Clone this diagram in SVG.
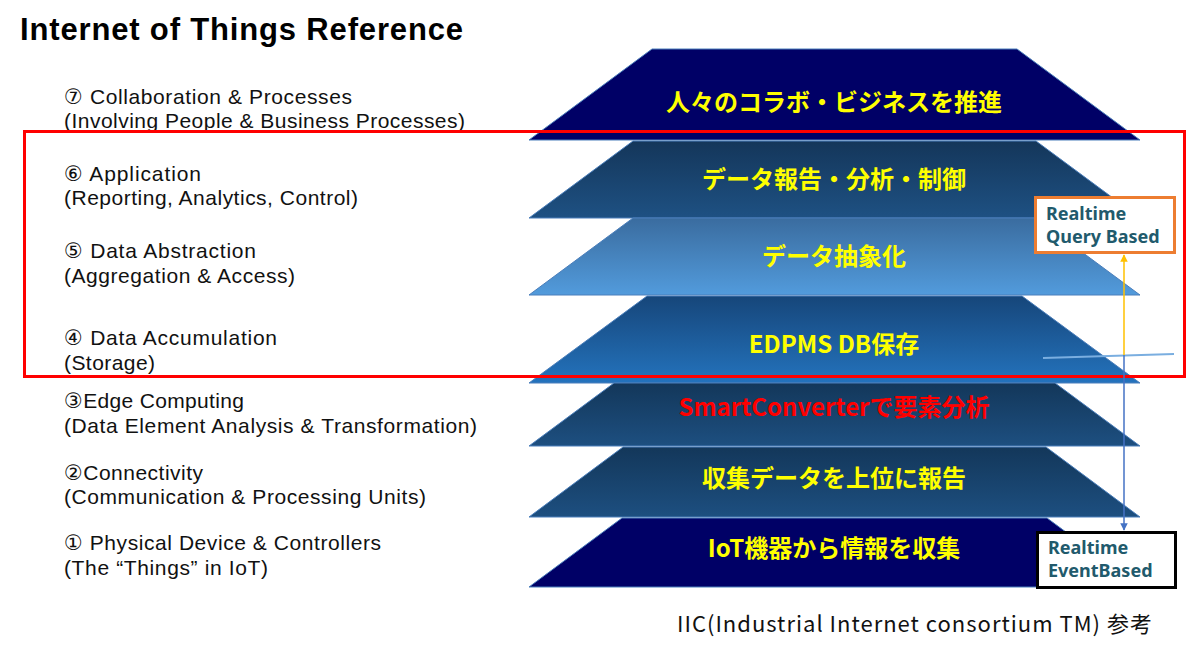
<svg xmlns="http://www.w3.org/2000/svg" width="1196" height="654" viewBox="0 0 1196 654">
<style>
.lbl{font-family:"Liberation Sans",Arial,sans-serif;font-size:21px;fill:#111}
.cd{font-family:"DejaVu Sans",sans-serif;font-size:21px}
.lt{font-family:"Noto Sans CJK JP",sans-serif;font-size:24px;font-weight:700;fill:#ffff00;text-anchor:middle;dominant-baseline:central}
.trap{stroke:#4a7ebb;stroke-width:1}
.rt{font-family:"Noto Sans","Liberation Sans",sans-serif;font-size:18px;font-weight:700;fill:#215a6c}
</style>
<defs>
<linearGradient id="g6" x1="0" y1="0" x2="0" y2="1"><stop offset="0" stop-color="#14365a"/><stop offset="1" stop-color="#1e5183"/></linearGradient>
<linearGradient id="g5" x1="0" y1="0" x2="0" y2="1"><stop offset="0" stop-color="#3a6c9f"/><stop offset="1" stop-color="#529bdc"/></linearGradient>
<linearGradient id="g4" x1="0" y1="0" x2="0" y2="1"><stop offset="0" stop-color="#16467a"/><stop offset="1" stop-color="#2473bd"/></linearGradient>
<linearGradient id="g3" x1="0" y1="0" x2="0" y2="1"><stop offset="0" stop-color="#13375a"/><stop offset="1" stop-color="#1d4f80"/></linearGradient>
<marker id="ay" viewBox="0 0 10 10" refX="9" refY="5" markerWidth="5" markerHeight="5" orient="auto"><path d="M0,0L10,5L0,10z" fill="#ffc000"/></marker>
<marker id="ab" viewBox="0 0 10 10" refX="9" refY="5" markerWidth="5" markerHeight="5" orient="auto"><path d="M0,0L10,5L0,10z" fill="#4472c4"/></marker>
</defs>
<rect width="1196" height="654" fill="#fff"/>
<text x="20" y="40" font-family="Liberation Sans,Arial,sans-serif" font-size="31" font-weight="700" fill="#000" textLength="443">Internet of Things Reference</text>

<g id="layer7"><polygon class="trap" points="652,49 1017,49 1140,140 529,140" fill="#000066"/><text class="lt" x="834" y="100">人々のコラボ・ビジネスを推進</text></g>
<g id="layer6"><polygon class="trap" points="633,141 1036,141 1140,218 529,218" fill="url(#g6)"/><text class="lt" x="834" y="177">データ報告・分析・制御</text></g>
<g id="layer5"><polygon class="trap" points="633,218 1036,218 1140,295 529,295" fill="url(#g5)"/><text class="lt" x="834" y="254">データ抽象化</text></g>
<g id="layer4"><polygon class="trap" points="647,296 1022,296 1140,383 529,383" fill="url(#g4)"/><text class="lt" x="834" y="342">EDPMS DB保存</text></g>
<g id="layer3"><polygon class="trap" points="614,383 1055,383 1140,446 529,446" fill="url(#g3)"/><text class="lt" x="834" y="405" style="fill:#ff0000">SmartConverterで要素分析</text></g>
<g id="layer2"><polygon class="trap" points="623,447 1046,447 1140,517 529,517" fill="url(#g3)"/><text class="lt" x="834" y="476">収集データを上位に報告</text></g>
<g id="layer1"><polygon class="trap" points="622,518 1047,518 1140,587 529,587" fill="#000066"/><text class="lt" x="834" y="546">IoT機器から情報を収集</text></g>

<g id="label7"><text class="lbl" x="64" y="104" textLength="288"><tspan class="cd">⑦</tspan> Collaboration &amp; Processes</text><text class="lbl" x="64" y="128" textLength="401">(Involving People &amp; Business Processes)</text></g>
<g id="label6"><text class="lbl" x="64" y="181" textLength="137"><tspan class="cd">⑥</tspan> Application</text><text class="lbl" x="64" y="205" textLength="294">(Reporting, Analytics, Control)</text></g>
<g id="label5"><text class="lbl" x="64" y="258" textLength="192"><tspan class="cd">⑤</tspan> Data Abstraction</text><text class="lbl" x="64" y="283" textLength="231">(Aggregation &amp; Access)</text></g>
<g id="label4"><text class="lbl" x="64" y="345" textLength="213"><tspan class="cd">④</tspan> Data Accumulation</text><text class="lbl" x="64" y="370" textLength="91">(Storage)</text></g>
<g id="label3"><text class="lbl" x="64" y="408" textLength="180"><tspan class="cd">③</tspan>Edge Computing</text><text class="lbl" x="64" y="433" textLength="413">(Data Element Analysis &amp; Transformation)</text></g>
<g id="label2"><text class="lbl" x="64" y="480" textLength="139"><tspan class="cd">②</tspan>Connectivity</text><text class="lbl" x="64" y="504" textLength="362">(Communication &amp; Processing Units)</text></g>
<g id="label1"><text class="lbl" x="64" y="550" textLength="317"><tspan class="cd">①</tspan> Physical Device &amp; Controllers</text><text class="lbl" x="64" y="575" textLength="204">(The “Things” in IoT)</text></g>

<g id="highlight"><rect x="24.5" y="131.5" width="1160" height="245" fill="none" stroke="#ff0000" stroke-width="3"/></g>

<g id="connectors">
<line x1="1043" y1="358" x2="1174" y2="354" stroke="#7aaee0" stroke-width="2"/>
<line x1="1124" y1="355" x2="1124" y2="255" stroke="#ffc000" stroke-width="1.5" marker-end="url(#ay)"/>
<line x1="1124" y1="355" x2="1124" y2="530" stroke="#4472c4" stroke-width="1.5" marker-end="url(#ab)"/>
</g>

<g id="query"><rect x="1035.5" y="197.5" width="139" height="55" fill="#fff" stroke="#ed7d31" stroke-width="3"/><text class="rt" x="1046" y="220">Realtime</text><text class="rt" x="1046" y="243">Query Based</text></g>
<g id="event"><rect x="1037.5" y="532.5" width="138" height="55" fill="#fff" stroke="#000" stroke-width="3"/><text class="rt" x="1048" y="554">Realtime</text><text class="rt" x="1048" y="577">EventBased</text></g>

<text x="677" y="632" font-family="Noto Sans CJK JP,sans-serif" font-size="22" fill="#111" textLength="475">IIC(Industrial Internet consortium TM) 参考</text>
</svg>
